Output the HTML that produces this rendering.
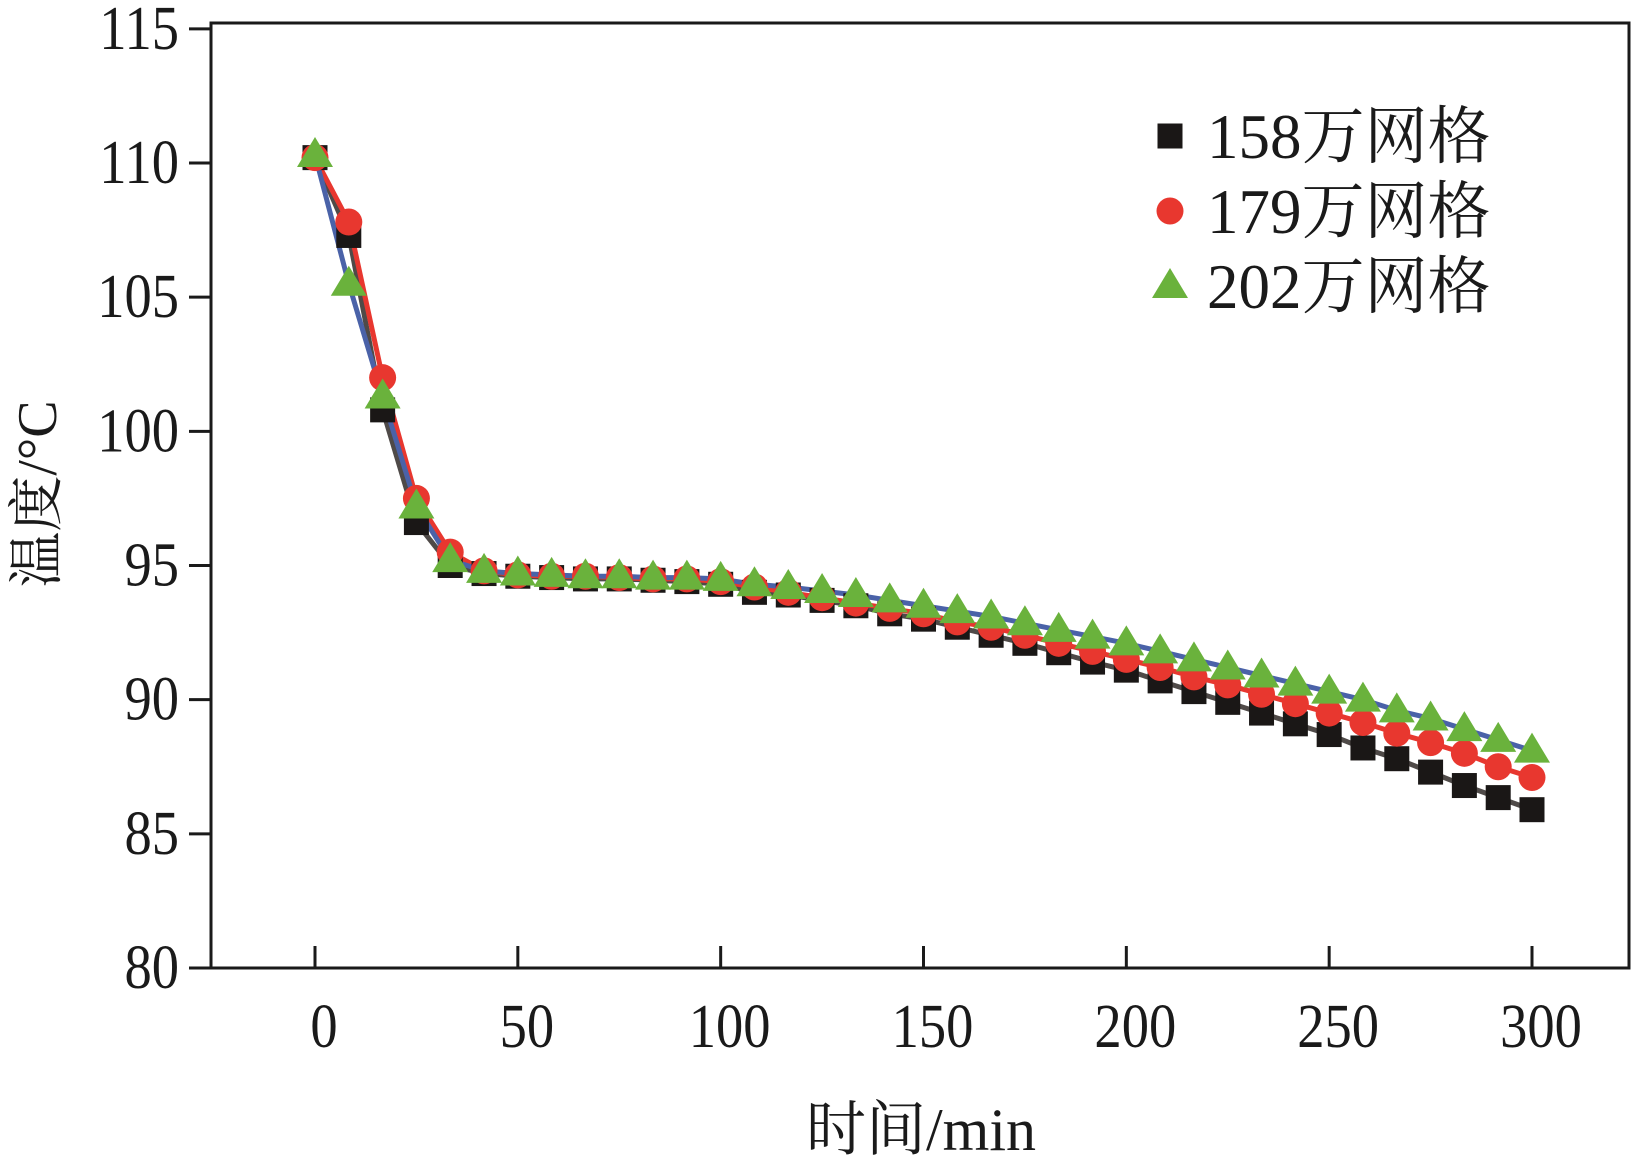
<!DOCTYPE html>
<html><head><meta charset="utf-8"><style>
html,body{margin:0;padding:0;background:#fff;}
svg{display:block;}
text{font-family:"Liberation Serif","Noto Serif CJK SC","Noto Sans CJK SC",serif;fill:#1a1a1a;}
</style></head><body>
<svg id="chart" width="1632" height="1170" viewBox="0 0 1632 1170" xmlns="http://www.w3.org/2000/svg">
<g id="axes"></g>
<g id="plot"></g>
<g id="legend"></g>
</svg>
<script>
const times = [0,8.33,16.67,25,33.33,41.67,50,58.33,66.67,75,83.33,91.67,100,108.33,116.67,125,133.33,141.67,150,158.33,166.67,175,183.33,191.67,200,208.33,216.67,225,233.33,241.67,250,258.33,266.67,275,283.33,291.67,300];
const s158 = [110.2,107.3,100.8,96.6,95.0,94.7,94.6,94.55,94.5,94.5,94.45,94.4,94.3,94.0,93.9,93.7,93.5,93.2,93.0,92.7,92.4,92.1,91.75,91.4,91.1,90.7,90.3,89.9,89.5,89.1,88.7,88.2,87.8,87.3,86.8,86.35,85.9];
const s179 = [110.2,107.8,102.0,97.5,95.5,94.8,94.65,94.6,94.6,94.55,94.5,94.5,94.4,94.2,94.0,93.8,93.6,93.4,93.2,92.9,92.7,92.4,92.1,91.8,91.5,91.2,90.85,90.55,90.2,89.85,89.5,89.15,88.75,88.4,88.0,87.5,87.1];
const s202 = [110.3,105.5,101.3,97.2,95.2,94.8,94.7,94.65,94.6,94.6,94.55,94.55,94.5,94.3,94.2,94.05,93.9,93.7,93.5,93.3,93.1,92.85,92.6,92.35,92.1,91.8,91.5,91.2,90.9,90.6,90.3,90.0,89.6,89.3,88.9,88.5,88.1];
const xTicks = [0,50,100,150,200,250,300];
const yTicks = [80,85,90,95,100,105,110,115];
const legendLabels = ["158万网格","179万网格","202万网格"];

const NS="http://www.w3.org/2000/svg";
const L=211,R=1629,T=23,B=968;
function xs(t){return 315+(t/300)*(1532-315);}
function ys(v){return 968-(v-80)*(968-163)/30;}
function mk(tag,attrs,parent){const e=document.createElementNS(NS,tag);for(const k in attrs)e.setAttribute(k,attrs[k]);parent.appendChild(e);return e;}
const axes=document.getElementById('axes'),plot=document.getElementById('plot'),legend=document.getElementById('legend');

let frame=mk('rect',{x:L,y:T,width:R-L,height:B-T,fill:'none',stroke:'#1a1a1a','stroke-width':3},axes);


yTicks.forEach(v=>{
 const y=ys(v);
 let tk=mk('line',{x1:L-22,x2:L,y1:y,y2:y,stroke:'#1a1a1a','stroke-width':3},axes);
 
 
 let tx=mk('text',{x:0,y:0,'text-anchor':'end','font-size':62,transform:`translate(179,${y+20}) scale(0.88,1)`},axes);
 tx.textContent=v;
 
 
});
xTicks.forEach(v=>{
 const x=xs(v);
 let tk=mk('line',{x1:x,x2:x,y1:B-22,y2:B,stroke:'#1a1a1a','stroke-width':3},axes);
 
 
 let tx=mk('text',{x:0,y:0,'text-anchor':'middle','font-size':62,transform:`translate(${x+9},1047) scale(0.88,1)`},axes);
 tx.textContent=v;
 
 
});
let xt=mk('text',{x:921,y:1150,'text-anchor':'middle','font-size':60},axes);
xt.textContent='时间/min';


let yt=mk('text',{x:0,y:0,'text-anchor':'middle','font-size':56,transform:'translate(56,494) rotate(-90)'},axes);
yt.textContent='温度/°C';



function marker(type,x,y,parent){
 if(type==='sq')return mk('rect',{x:x-12.5,y:y-12.5,width:25,height:25,fill:'#1a1716'},parent);
 if(type==='ci')return mk('circle',{cx:x,cy:y,r:13.5,fill:'#e8372f'},parent);
 return mk('polygon',{points:`${x},${y-18} ${x-18},${y+12} ${x+18},${y+12}`,fill:'#6ab23c'},parent);
}
const series=[
 {data:s158,line:'#4f4a48',type:'sq',name:'series-158'},
 {data:s179,line:'#e8372f',type:'ci',name:'series-179'},
 {data:s202,line:'#4a62a8',type:'tr',name:'series-202'}
];
series.forEach(s=>{
 const g=mk('g',{},plot);
 
 
 const pts=times.map((t,i)=>xs(t)+','+ys(s.data[i])).join(' ');
 const pl=mk('polyline',{points:pts,fill:'none',stroke:s.line,'stroke-width':5,'stroke-linejoin':'round'},g);
 
 
});
series.forEach(s=>{
 const g=mk('g',{},plot);
 
 
 times.forEach((t,i)=>{
  const m=marker(s.type,xs(t),ys(s.data[i]),g);
  
  
 });
});
legendLabels.forEach((lab,i)=>{
 const y=136+i*75;
 const g=mk('g',{},legend);
 
 
 const m=marker(series[i].type,1170,y,g);
 
 
 const tx=mk('text',{x:1207,y:y+22,'font-size':63},g);
 tx.textContent=lab;
 
 
});
</script>
</body></html>
